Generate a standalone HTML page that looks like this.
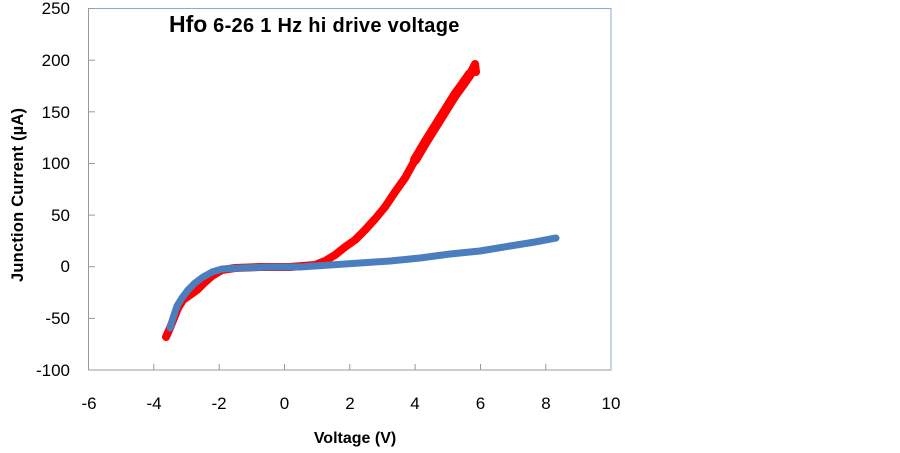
<!DOCTYPE html>
<html><head><meta charset="utf-8"><style>
body{margin:0;background:#fff;width:900px;height:448px;overflow:hidden}
svg text{font-family:"Liberation Sans",sans-serif}
</style></head><body>
<svg width="900" height="448" viewBox="0 0 900 448">
<rect x="88.5" y="8.5" width="522.5" height="361.5" fill="none" stroke="#8eaad8" stroke-width="1"/>
<line x1="88.5" y1="8.5" x2="88.5" y2="370" stroke="#999" stroke-width="1"/>
<line x1="88.5" y1="370" x2="611" y2="370" stroke="#999" stroke-width="1"/>
<g stroke="#999" stroke-width="1">
<line x1="88.5" y1="8.5" x2="95" y2="8.5"/><line x1="88.5" y1="60.2" x2="95" y2="60.2"/><line x1="88.5" y1="111.8" x2="95" y2="111.8"/><line x1="88.5" y1="163.5" x2="95" y2="163.5"/><line x1="88.5" y1="215.1" x2="95" y2="215.1"/><line x1="88.5" y1="266.7" x2="95" y2="266.7"/><line x1="88.5" y1="318.4" x2="95" y2="318.4"/>
<line x1="153.8" y1="370" x2="153.8" y2="364"/><line x1="219.2" y1="370" x2="219.2" y2="364"/><line x1="284.5" y1="370" x2="284.5" y2="364"/><line x1="349.8" y1="370" x2="349.8" y2="364"/><line x1="415.1" y1="370" x2="415.1" y2="364"/><line x1="480.5" y1="370" x2="480.5" y2="364"/><line x1="545.8" y1="370" x2="545.8" y2="364"/>
</g>
<g font-size="17" fill="#000" text-anchor="end">
<text x="70" y="14">250</text><text x="70" y="66">200</text><text x="70" y="118">150</text><text x="70" y="169">100</text><text x="70" y="221">50</text><text x="70" y="272">0</text><text x="70" y="324">-50</text><text x="70" y="376">-100</text>
</g>
<g font-size="17" fill="#000" text-anchor="middle">
<text x="89" y="409">-6</text><text x="154" y="409">-4</text><text x="219" y="409">-2</text><text x="284.5" y="409">0</text><text x="350" y="409">2</text><text x="415" y="409">4</text><text x="480.5" y="409">6</text><text x="546" y="409">8</text><text x="611" y="409">10</text>
</g>
<text x="355" y="443" font-size="16" font-weight="bold" text-anchor="middle">Voltage (V)</text>
<text transform="translate(23,195) rotate(-90)" font-size="16.5" font-weight="bold" text-anchor="middle" textLength="174">Junction Current (µA)</text>
<text x="169" y="32" font-weight="bold"><tspan font-size="23">Hfo</tspan><tspan font-size="20" textLength="252"> 6-26 1 Hz hi drive voltage</tspan></text>
<polyline fill="none" stroke="#ff0000" stroke-width="8" stroke-linejoin="round" stroke-linecap="round"
points="166,337 170,328 174,318 178,308 183,300 190,295 197,290 204,283 212,276 222,270 235,268 260,267 290,267 315,265 325,261 335,255 345,247 355,240 365,230 375,219 385,207 395,192 405,178 415,160 425,143 435,127 445,111 455,95 463,84 470,74 475,64 476,72"/>
<polyline fill="none" stroke="#ff0000" stroke-width="10" stroke-linejoin="round" stroke-linecap="round"
points="415,160 425,143 435,127 445,111 455,95 463,84 470,74"/>
<polyline fill="none" stroke="#4a7ebf" stroke-width="7" stroke-linejoin="round" stroke-linecap="round"
points="170,328 173,318 177,306 182,298 188,290 195,283 203,277 212,272 222,269 240,268 270,267 300,267 330,265 360,263 390,261 420,258 450,254 480,251 510,246 535,242 556,238"/>
</svg>
</body></html>
